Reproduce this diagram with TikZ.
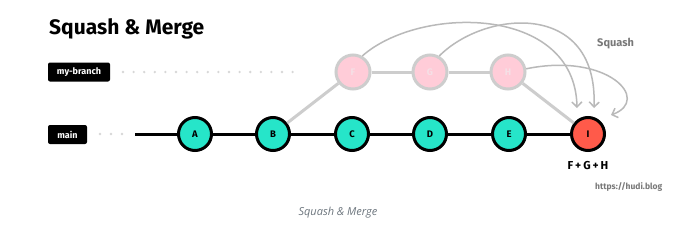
\documentclass[tikz,border=0pt]{standalone}
\usepackage{fontspec}
\setmainfont{Fira Sans}
\newfontfamily\capfont{Open Sans}
\usetikzlibrary{arrows.meta}
\definecolor{teal}{RGB}{38,229,201}
\definecolor{redc}{RGB}{255,90,74}
\definecolor{pinkc}{RGB}{255,204,216}
\definecolor{pinktxt}{RGB}{245,224,230}
\definecolor{lgray}{RGB}{205,205,205}
\definecolor{agray}{RGB}{185,185,185}
\definecolor{dotgray}{RGB}{215,215,215}
\definecolor{txtgray}{RGB}{120,120,120}
\definecolor{capgray}{RGB}{108,117,125}
\tikzset{
  commit/.style={circle, draw=black, line width=3pt, fill=teal, minimum size=33pt, inner sep=0pt, font=\bfseries\fontsize{9.5}{9.5}\selectfont},
  squashed/.style={commit, fill=redc},
  ghost/.style={circle, draw=lgray, line width=3pt, fill=pinkc, minimum size=34pt, inner sep=0pt, text=pinktxt, font=\bfseries\fontsize{9.5}{9.5}\selectfont},
  tag/.style={fill=black, text=white, rounded corners=2pt, inner sep=0pt, minimum height=19pt, font=\bfseries\fontsize{9}{9}\selectfont},
  mainline/.style={line width=3pt, draw=black},
  branchline/.style={line width=3pt, draw=lgray},
  squasharrow/.style={line width=1.5pt, draw=agray, -{Straight Barb[length=5pt,width=10pt,line width=1.5pt]}},
  dotted row/.style={fill=dotgray}
}
\begin{document}
\begin{tikzpicture}[x=1pt,y=-1pt]
\useasboundingbox[fill=white] (0,0) rectangle (693,236);
% title
\node[anchor=west, inner sep=0pt, font=\bfseries\fontsize{21}{21}\selectfont] (title) at (49,29) {Squash \& Merge};
% labels
\node[tag, minimum width=62pt] (mybranch) at (79,72) {my-branch};
\node[tag, minimum width=39pt] (mainlbl) at (67.5,134.5) {main};
% dots
\foreach \i in {0,...,16} { \fill[dotted row] (123+\i*10.6,72) circle (1.3pt); }
\foreach \i in {0,1,2} { \fill[dotted row] (100+\i*11,134) circle (1.3pt); }
% commits
\node[commit] (A) at (195,134) {A};
\node[commit] (B) at (273,134) {B};
\node[commit] (C) at (352,134) {C};
\node[commit] (D) at (430,134) {D};
\node[commit] (E) at (509,134) {E};
\node[squashed] (I) at (588,134) {I};
\node[ghost] (F) at (353,72) {F};
\node[ghost] (G) at (430,72) {G};
\node[ghost] (H) at (508,72) {H};
\coordinate (mstart) at (135,134);
% lines
\draw[branchline] (B) -- (F);
\draw[branchline] (F) -- (G);
\draw[branchline] (G) -- (H);
\draw[branchline] (H) -- (I);
\draw[mainline] (mstart) -- (A);
\draw[mainline] (A) -- (B);
\draw[mainline] (B) -- (C);
\draw[mainline] (C) -- (D);
\draw[mainline] (D) -- (E);
\draw[mainline] (E) -- (I);
% squash arrows
\coordinate (t1) at (577,108);
\coordinate (t2) at (594,108);
\coordinate (t3) at (611,115);
\draw[squasharrow] (F.60) .. controls (420,5) and (575,5) .. (t1);
\draw[squasharrow] (G.60) .. controls (485,10) and (598,0) .. (t2);
\draw[squasharrow] (H.10) .. controls (608,52) and (652,100) .. (t3);
% texts
\node[text=txtgray, font=\bfseries\fontsize{11}{11}\selectfont, anchor=west, inner sep=0pt] (sq) at (597,44) {Squash};
\node[font=\bfseries\fontsize{11.5}{11.5}\selectfont, inner sep=0pt] (sum) at (588,166) {F\,+\,G\,+\,H};
\node[text=txtgray, font=\bfseries\fontsize{8.5}{8.5}\selectfont, anchor=west, inner sep=0pt] (url) at (595,187) {https://hudi.blog};
\node[text=capgray, font=\capfont\itshape\fontsize{11}{11}\selectfont, inner sep=0pt] (cap) at (338,213) {Squash \& Merge};
\end{tikzpicture}
\end{document}
